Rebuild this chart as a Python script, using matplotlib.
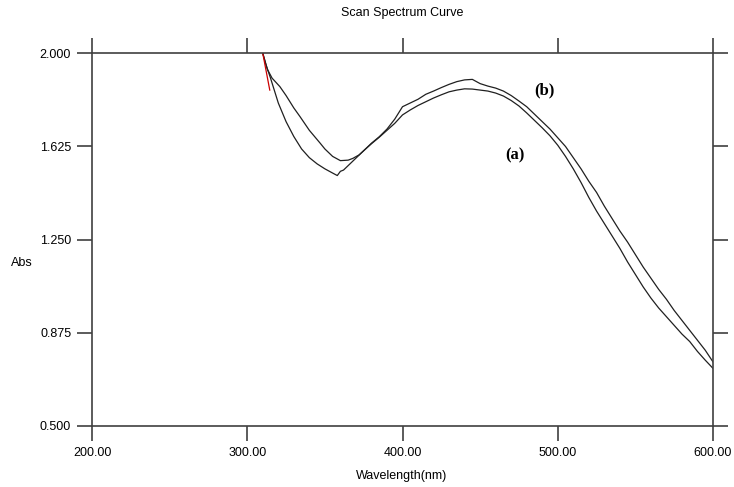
import matplotlib
matplotlib.use('Agg')
import matplotlib.pyplot as plt

plt.rcParams['font.family'] = ['Liberation Sans', 'DejaVu Sans']

# scan (a): shallow dip, lower after the crossing
wl_a = [310, 313, 316, 321, 325, 330, 334, 340, 347, 350, 355, 360, 365, 368,
        372, 375, 380, 385, 390, 395, 400, 405, 410, 415, 420, 425, 430, 435,
        440, 445, 450, 455, 460, 465, 470, 475, 480, 485, 490, 495, 500, 505,
        510, 515, 520, 525, 530, 535, 540, 545, 550, 555, 560, 565, 570, 575,
        580, 585, 590, 595, 600]
abs_a = [2.000, 1.935, 1.900, 1.866, 1.830, 1.780, 1.745, 1.690, 1.638, 1.615,
         1.585, 1.568, 1.570, 1.577, 1.591, 1.608, 1.636, 1.662, 1.690, 1.718,
         1.752, 1.772, 1.790, 1.805, 1.820, 1.833, 1.845, 1.852, 1.857, 1.856,
         1.852, 1.848, 1.840, 1.828, 1.810, 1.788, 1.760, 1.730, 1.700, 1.668,
         1.630, 1.585, 1.535, 1.480, 1.420, 1.365, 1.315, 1.265, 1.215, 1.160,
         1.110, 1.060, 1.015, 0.975, 0.940, 0.905, 0.870, 0.840, 0.800, 0.765,
         0.732]

# scan (b): deeper dip, higher peak
wl_b = [310, 312, 315, 320, 325, 330, 335, 340, 345, 350, 355, 358, 360, 362,
        365, 370, 375, 380, 385, 390, 395, 400, 405, 410, 415, 420, 425, 430,
        435, 440, 445, 450, 455, 460, 465, 470, 475, 480, 485, 490, 495, 500,
        505, 510, 515, 520, 525, 530, 535, 540, 545, 550, 555, 560, 565, 570,
        575, 580, 585, 590, 595, 600]
abs_b = [2.000, 1.955, 1.900, 1.800, 1.725, 1.665, 1.615, 1.580, 1.555, 1.535,
         1.518, 1.508, 1.525, 1.530, 1.548, 1.578, 1.608, 1.638, 1.664, 1.695,
         1.735, 1.785, 1.800, 1.815, 1.835, 1.848, 1.862, 1.875, 1.886, 1.893,
         1.895, 1.878, 1.868, 1.860, 1.848, 1.830, 1.808, 1.785, 1.755, 1.725,
         1.695, 1.660, 1.625, 1.580, 1.535, 1.485, 1.440, 1.385, 1.335, 1.285,
         1.240, 1.190, 1.140, 1.095, 1.050, 1.010, 0.965, 0.925, 0.885, 0.845,
         0.805, 0.758]

# short red trace at the start of the scan
wl_r = [310, 314.5]
abs_r = [2.000, 1.852]

x_ticks = [200, 300, 400, 500, 600]
y_ticks = [0.500, 0.875, 1.250, 1.625, 2.000]

fig = plt.figure(figsize=(7.34, 4.87), dpi=100)
ax = fig.add_axes([92/734, 1-426/487, 621/734, (426-53.3)/487])

ax.plot(wl_a, abs_a, color='#202020', lw=0.9)
ax.plot(wl_b, abs_b, color='#202020', lw=0.9)
ax.plot(wl_r, abs_r, color='#cc0000', lw=0.9)

ax.set_xlim(200, 600)
ax.set_ylim(0.5, 2.0)
ax.set_xticks(x_ticks)
ax.set_xticklabels(['%.2f' % v for v in x_ticks])
ax.set_yticks(y_ticks)
ax.set_yticklabels(['%.3f' % v for v in y_ticks])
ax.tick_params(direction='out', length=11, width=1.2, color='#404040',
               labelsize=9, pad=4, top=True, right=True)

for s in ax.spines.values():
    s.set_color('#404040')
    s.set_linewidth(1.2)

ax.text(491.5, 1.849, '(b)', family='Liberation Serif', weight='bold',
        fontsize=12, ha='center', va='center')
ax.text(472.2, 1.591, '(a)', family='Liberation Serif', weight='bold',
        fontsize=12, ha='center', va='center')

fig.text(402/734, 1-13/487, 'Scan Spectrum Curve', ha='center', va='center', fontsize=9)
fig.text(402/734, 1-476/487, 'Wavelength(nm)', ha='center', va='center', fontsize=9)
fig.text(22/734, 1-263/487, 'Abs', ha='center', va='center', fontsize=9)

fig.savefig('out.png', dpi=100)
